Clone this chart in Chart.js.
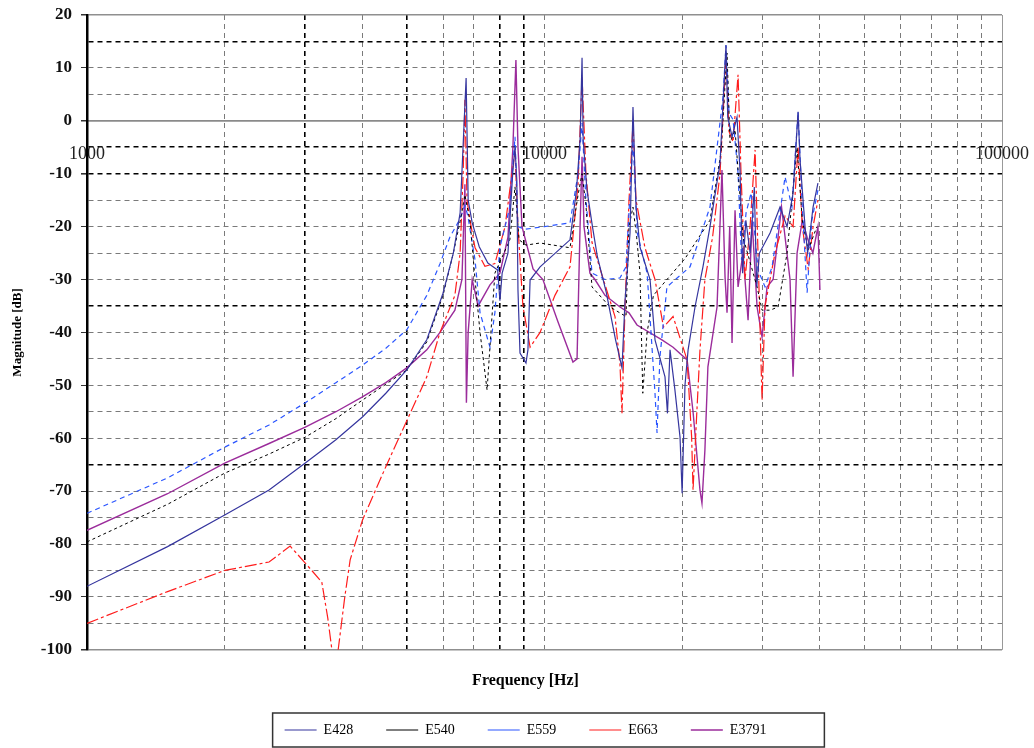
<!DOCTYPE html>
<html>
<head>
<meta charset="utf-8">
<script src="https://cdn.jsdelivr.net/npm/chart.js@4"></script>
<style>
  body { margin: 0; background: #fff; }
  canvas { display: block; }
</style>
</head>
<body>
<canvas id="chart" width="1034" height="748"></canvas>
<script>
// Axis ticks
const freqTicks = [1000, 2000, 3000, 4000, 5000, 6000, 7000, 8000, 9000,
    10000, 20000, 30000, 40000, 50000, 60000, 70000, 80000, 90000, 100000];
const freqLabels = [1000, 10000, 100000];
const magLabels = [20, 10, 0, -10, -20, -30, -40, -50, -60, -70, -80, -90, -100];

const seriesNames = ['E428', 'E540', 'E559', 'E663', 'E3791'];

// E428
const e428Freq = [1000, 1500, 2000, 2500, 3000, 3500, 4000, 4500, 5000, 5530,
    6000, 6320, 6540, 6740, 6810, 6950, 7200, 7520, 7900, 7990,
    8080, 8320, 8530, 8620, 8700, 8750, 8840, 9110, 9200, 9300,
    9780, 11370, 11750, 11960, 12080, 12150, 12380, 12730, 13050, 13650,
    14300, 14770, 15000, 15380, 15610, 15850, 16170, 17010, 17440, 18340,
    18570, 18810, 19280, 19780, 19990, 20280, 20600, 21330, 22200, 23000,
    24190, 24560, 24930, 25150, 25700, 26350, 26750, 27100, 27550, 28150,
    28750, 29100, 29500, 31120, 32720, 33900, 34940, 35830, 36190, 37110,
    37600, 38640, 39600];
const e428Mag = [-88, -80.5, -74.5, -69.8, -64.7, -60.3, -56, -51.5, -47.1, -41.4,
    -32.6, -25, -17.4, 8.1, -15, -19.3, -23.8, -26.9, -28.2, -34,
    -28.8, -25, -9.3, -5, -11.2, -32, -43.9, -45.8, -43.3, -30.1,
    -27.6, -22.5, -13, -3.6, 11.9, -3.6, -13, -20, -25.7, -32.5,
    -41.4, -46.7, -33.9, -21.2, 2.6, -16.3, -23.9, -30, -41.4, -48.4,
    -55.3, -43.3, -50.9, -59.8, -70.4, -50, -43.3, -35.2, -27.6, -20,
    -8, 3.4, 14.3, 0.7, -3, 0.7, -9.3, -28.8, -18.8, -25,
    -12.5, -31.4, -25, -21.2, -16.3, -20, -13.7, 1.7, -7.4, -20,
    -25, -16.3, -11.8];

// E540
const e540Freq = [1000, 1500, 2000, 2500, 3000, 3500, 4000, 4500, 5000, 5530,
    6000, 6320, 6540, 6700, 6880, 7050, 7230, 7490, 7790, 8400,
    8620, 8800, 9110, 9780, 11370, 11840, 12080, 12320, 12700, 13910,
    15070, 15300, 15610, 15900, 16170, 16400, 16760, 17300, 18520, 20300,
    23000, 24300, 25060, 25440, 26090, 26490, 27160, 29150, 29890, 31120,
    32400, 33900, 35650, 36600, 37700, 39400];
const e540Mag = [-79.6, -72.5, -66.6, -63, -59.8, -56.3, -52.8, -49.8, -47.1, -41.8,
    -33, -25, -19, -14, -19.3, -30, -40, -50.9, -28.8, -22.5,
    -12.5, -22.5, -23.5, -23.1, -24, -14, -10, -16, -31.4, -35.2,
    -37, -20, -16.3, -22, -28.8, -51.5, -40, -33, -30, -26,
    -18.8, -6.1, 12.8, -4.2, -1.7, -9.3, -22, -31.4, -35.8, -35.8,
    -35.2, -25, -5, -18.8, -24.4, -20];

// E559
const e559Freq = [1000, 1500, 2000, 2500, 3000, 3500, 4000, 4500, 5000, 5530,
    5910, 6210, 6540, 6700, 6800, 7050, 7230, 7600, 7790, 7990,
    8400, 8620, 8750, 9070, 10000, 11370, 11840, 12080, 12300, 12700,
    13560, 14620, 15070, 15610, 15950, 16760, 17440, 17620, 17880, 18520,
    20800, 23000, 24560, 24930, 25310, 25830, 26490, 26960, 27580, 28290,
    29290, 30340, 31440, 33560, 34740, 35830, 36600, 37500, 38400, 39600];
const e559Mag = [-74.2, -67.5, -61.7, -57.5, -53.3, -49.5, -46.2, -43, -39.5, -33,
    -27, -22, -18.5, -16, -18, -26.3, -36.3, -42.8, -36.3, -23.9,
    -16.3, -3, -20, -20.5, -20, -19.3, -10, -0.4, -14, -28.8,
    -30, -29.7, -27.6, -3.6, -21.2, -28.8, -51.5, -59, -44.6, -31.4,
    -27.6, -16.3, 4.5, 14.3, 1.5, 0.2, -9.9, -26.3, -17.4, -13.6,
    -28.2, -31.4, -27.6, -10.6, -16.3, 1.7, -16.3, -32.5, -18.8, -13.1];

// E663
const e663Freq = [1000, 1500, 2000, 2500, 2780, 3000, 3260, 3360, 3430, 3480,
    3540, 3660, 3760, 4000, 4520, 5000, 5530, 5910, 6370, 6540,
    6640, 6700, 6770, 6880, 7050, 7410, 7790, 8200, 8400, 8620,
    8750, 8970, 9300, 9780, 10540, 11370, 11840, 12080, 12320, 12700,
    13560, 14260, 14620, 14770, 15000, 15300, 15610, 15850, 16580, 17440,
    18200, 19100, 20500, 20970, 21120, 21500, 21870, 22420, 23300, 24190,
    24930, 25310, 25830, 26490, 26890, 27440, 28140, 28860, 29290, 29890,
    30340, 31910, 33560, 34940, 35830, 36600, 37700, 38640, 39600];
const e663Mag = [-95, -89, -85, -83.4, -80.4, -83.6, -87.2, -94, -100, -110,
    -100, -90, -83, -75.5, -65, -56.7, -48.4, -40, -33, -25,
    -10, 4, -15, -19, -24, -27.5, -27, -20, -13, -6,
    -20, -35, -42.8, -40, -33, -27.6, -12, 8.3, -10, -23,
    -31, -37, -46, -55.3, -35, -15, -0.4, -15, -24, -30,
    -39, -37, -45.2, -59.8, -69.8, -56, -43.3, -30, -22, -10,
    12, -2, -4, 8.7, -10, -30, -20, -5.5, -25, -52.8,
    -35, -25, -18, -20, -5, -20, -28, -20, -15];

// E3791
const e3791Freq = [1000, 1500, 2000, 2500, 3000, 3500, 4000, 4500, 5000, 5530,
    5910, 6370, 6600, 6700, 6750, 6810, 6950, 7160, 7600, 7990,
    8320, 8530, 8660, 8750, 8930, 9440, 9920, 10700, 11540, 11780,
    11960, 12080, 12200, 12570, 12890, 13560, 14620, 15300, 15930, 18060,
    19100, 20500, 21120, 21870, 22090, 22420, 22760, 23830, 24430, 24810,
    25060, 25400, 25700, 26090, 26490, 27160, 27860, 28430, 29150, 29890,
    30650, 31600, 32970, 34410, 34940, 35650, 36600, 37500, 38600, 39600,
    40000];
const e3791Mag = [-77.4, -70.5, -64.7, -61, -57.9, -55, -52.2, -49.5, -46.7, -43.3,
    -40, -35.8, -30, -12, -53.3, -40, -30, -35, -31, -28.8,
    -22, -5, 11.5, -5, -20, -28, -30, -38, -45.6, -45,
    -20, -6.8, -20, -28.8, -30, -33, -35.2, -36.3, -38.6, -41.4,
    -42.8, -45.2, -55, -69.8, -72.3, -62.2, -46.5, -35.2, -9.3, -29.5,
    -36.3, -20, -42, -16.9, -31.4, -25, -37.7, -18.8, -35.2, -40.9,
    -31.4, -30, -16.3, -30, -48.4, -25, -18.8, -22, -25, -20,
    -32];

// grid lines that print darker in the original
const darkFreqLines = [3000, 5000, 8000, 9000];
const darkMagLines = [15, -5, -10, -35, -65];
const solidMagLines = [20, 0, -100];

const serif = "'Liberation Serif', 'DejaVu Serif', serif";

function toPoints(freqs, mags) {
    return freqs.map((f, i) => ({ x: f, y: mags[i] }));
}

function makeDataset(index, freqs, mags, color, dash, width) {
    return {
        label: seriesNames[index],
        data: toPoints(freqs, mags),
        borderColor: color,
        backgroundColor: color,
        borderDash: dash,
        borderWidth: width,
        pointRadius: 0,
        tension: 0,
        fill: false
    };
}

// the original centres title and legend a bit left of the plot centre
const bottomShift = {
    id: 'bottomShift',
    afterLayout(chart) {
        [chart.legend, chart.titleBlock].forEach(box => {
            box.left -= 19;
            box.right -= 19;
        });
    }
};

// box round the legend items
const legendFrame = {
    id: 'legendFrame',
    afterDraw(chart) {
        const boxes = chart.legend.legendHitBoxes;
        if (!boxes.length) return;
        const ctx = chart.ctx;
        const first = boxes[0];
        const last = boxes[boxes.length - 1];
        const left = first.left - 12;
        const right = last.left + last.width + 58;
        const mid = first.top + first.height / 2;
        ctx.save();
        ctx.strokeStyle = '#333';
        ctx.lineWidth = 1.5;
        ctx.strokeRect(left, mid - 17, right - left, 34);
        ctx.restore();
    }
};

const ctx = document.getElementById('chart').getContext('2d');
new Chart(ctx, {
    type: 'line',
    data: {
        datasets: [
            makeDataset(0, e428Freq, e428Mag, '#35359e', [], 1.2),
            makeDataset(1, e540Freq, e540Mag, '#000000', [3, 3], 1),
            makeDataset(2, e559Freq, e559Mag, '#2a55ff', [5, 4], 1.2),
            makeDataset(3, e663Freq, e663Mag, '#ff1c1c', [12, 3, 3, 3], 1.2),
            makeDataset(4, e3791Freq, e3791Mag, '#9b2c9b', [], 1.4)
        ]
    },
    options: {
        responsive: false,
        animation: false,
        events: [],
        layout: { padding: { left: 0, top: 15, right: 32, bottom: 1 } },
        scales: {
            x: {
                type: 'logarithmic',
                position: { y: 0 },
                min: 1000,
                max: 100000,
                afterBuildTicks: (scale) => {
                    scale.ticks = freqTicks.map(v => ({ value: v }));
                },
                afterFit: (scale) => {
                    scale.height = 0;
                    scale.paddingLeft = 0;
                    scale.paddingRight = 0;
                },
                ticks: {
                    autoSkip: false,
                    maxRotation: 0,
                    padding: 23,
                    color: '#222',
                    font: { family: serif, size: 18 },
                    callback: (value) => freqLabels.includes(value) ? String(value) : ''
                },
                grid: {
                    drawTicks: false,
                    color: (c) => {
                        if (!c.tick) return '#888';
                        if (c.tick.value === 100000) return '#999';
                        return darkFreqLines.includes(c.tick.value) ? '#000' : '#7a7a7a';
                    },
                    lineWidth: (c) => c.tick && darkFreqLines.includes(c.tick.value) ? 1.6 : 1
                },
                border: {
                    display: true,
                    color: '#8a8a8a',
                    width: 1.5,
                    dash: (c) => (c.tick && c.tick.value !== 100000) ? [5, 4] : []
                }
            },
            y: {
                min: -100,
                max: 20,
                afterFit: (scale) => {
                    scale.width = 87;
                    scale.paddingTop = 0;
                    scale.paddingBottom = 0;
                },
                ticks: {
                    stepSize: 5,
                    padding: 9,
                    color: '#111',
                    font: { family: serif, size: 17, weight: 'bold' },
                    callback: (value) => magLabels.includes(value) ? String(value) : ''
                },
                grid: {
                    drawTicks: true,
                    tickLength: 6,
                    tickColor: (c) => c.tick && magLabels.includes(c.tick.value) ? '#333' : 'rgba(0,0,0,0)',
                    color: (c) => {
                        if (!c.tick) return '#888';
                        if (solidMagLines.includes(c.tick.value)) return '#8f8f8f';
                        return darkMagLines.includes(c.tick.value) ? '#000' : '#7a7a7a';
                    },
                    lineWidth: (c) => {
                        if (!c.tick) return 1;
                        if (solidMagLines.includes(c.tick.value)) return 1.5;
                        return darkMagLines.includes(c.tick.value) ? 1.6 : 1;
                    }
                },
                border: {
                    display: true,
                    color: '#000',
                    width: 2.5,
                    dash: (c) => (c.tick && !solidMagLines.includes(c.tick.value)) ? [5, 4] : []
                },
                title: {
                    display: true,
                    text: 'Magnitude [dB]',
                    color: '#000',
                    padding: { top: 10, bottom: 0 },
                    font: { family: serif, size: 13, weight: 'bold' }
                }
            }
        },
        plugins: {
            title: {
                display: true,
                position: 'bottom',
                fullSize: false,
                weight: 500,
                text: 'Frequency [Hz]',
                color: '#000',
                padding: { top: 21, bottom: 0 },
                font: { family: serif, size: 16, weight: 'bold' }
            },
            legend: {
                position: 'bottom',
                fullSize: false,
                labels: {
                    usePointStyle: true,
                    pointStyle: 'line',
                    pointStyleWidth: 32,
                    padding: 33,
                    color: '#000',
                    font: { family: serif, size: 14 }
                }
            },
            tooltip: { enabled: false }
        }
    },
    plugins: [bottomShift, legendFrame]
});
</script>
</body>
</html>
